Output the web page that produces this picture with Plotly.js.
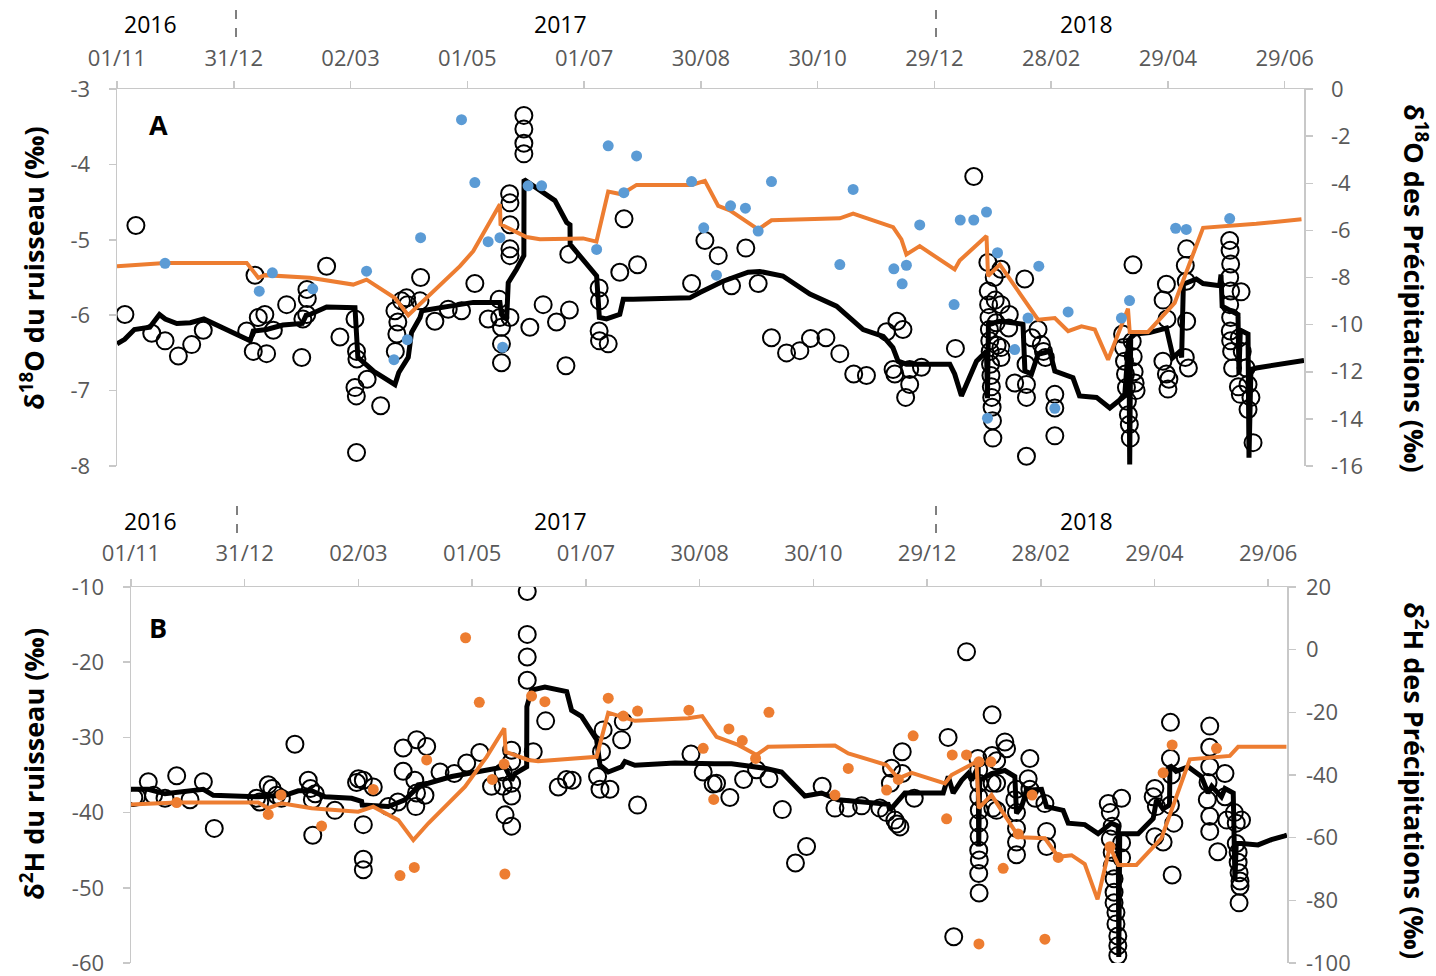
<!DOCTYPE html>
<html><head><meta charset="utf-8">
<script src="https://cdn.plot.ly/plotly-3.0.1.min.js"></script>
<style>html,body{margin:0;padding:0;background:#fff}#chart{width:1436px;height:976px}</style>
</head><body><div id="chart"></div>
<script>
// x values: days since 01/11/2016
const dateTickDays = [0, 60.5, 121, 181.5, 242, 302.5, 363, 423.5, 484, 544.5, 605];
const dateTickLabels = ['01/11','31/12','02/03','01/05','01/07','30/08','30/10','29/12','28/02','29/04','29/06'];
const yearLabels = ['2016','2017','2018'];

// Panel A — stream δ18O samples [day, ‰]
const streamSamplesA = [
[4.1,-5.99],[9.8,-4.81],[18,-6.24],[24.9,-6.34],[31.8,-6.54],[38.7,-6.39],[44.7,-6.20],[67.2,-6.21],[70.6,-6.48],[71.5,-5.47],
[73.2,-6.03],[76.6,-5.99],[77.5,-6.51],[81,-6.20],[87.9,-5.86],[95.7,-6.56],[96.3,-6.05],[98.3,-5.99],[98.4,-5.66],[98.6,-5.78],
[108.6,-5.35],[115.5,-6.29],[123.3,-6.05],[124.1,-6.48],[124.3,-6.58],[123.3,-6.96],[124,-7.07],[124.1,-7.82],[129.6,-6.85],[136.6,-7.20],
[144,-5.94],[144.2,-6.48],[145,-6.25],[145.5,-6.09],[147.4,-5.81],
[150,-5.77],[150.5,-5.86],[157,-5.81],[157.3,-5.50],[164.7,-6.08],[171.6,-5.92],[178.5,-5.94],[185.4,-5.58],[192.3,-6.05],[198,-5.79],
[198.3,-6.03],[199.2,-6.16],[199.2,-6.38],[199.2,-6.63],[203.6,-6.03],[203.4,-4.39],[203.6,-4.51],[203.6,-4.80],[203.6,-5.12],[203.6,-5.21],
[210.8,-3.35],[210.8,-3.53],[210.8,-3.72],[210.8,-3.86],[213.9,-6.16],[220.8,-5.86],[227.7,-6.09],[232.6,-6.67],[234.1,-5.19],[234.4,-5.93],
[249.8,-5.64],[250,-5.81],[249.8,-6.21],[250,-6.34],[254.5,-6.38],[260.5,-5.43],[262.7,-4.72],[269.7,-5.33],[297.7,-5.58],
[304.6,-5.01],[311.5,-5.21],[318.4,-5.61],[325.8,-5.11],[332.2,-5.58],[339.1,-6.30],[346.9,-6.50],[353.8,-6.47],[359.3,-6.31],[367.3,-6.30],
[374.5,-6.51],[381.7,-6.78],[388.3,-6.80],[398.7,-6.22],[402.1,-6.72],[403,-6.78],[404.1,-6.08],[407.2,-6.19],[408.6,-7.09],[410.7,-6.72],
[410.7,-6.92],[416.8,-6.69],[434.4,-6.44],[443.9,-4.16],
[451.2,-5.30],[451.4,-5.68],[451.6,-5.86],[451.8,-6.03],[452,-6.19],[452.2,-6.34],[452.4,-6.48],[452.6,-6.65],[452.8,-6.80],[453,-6.95],
[453.2,-7.09],[453.4,-7.22],[453.6,-7.40],[453.8,-7.63],[454.5,-5.50],[455,-5.80],[455.5,-6.10],[456,-6.40],
[458,-5.39],[458,-5.86],[458,-6.43],[458,-6.56],[462.3,-5.99],[462,-6.17],[465.1,-6.90],[470.3,-5.52],[471.2,-6.92],[471.2,-7.09],
[471,-6.65],[471.2,-7.87],[474,-6.30],[477.2,-6.19],[478.9,-6.39],[480,-6.48],[481,-6.56],[485.9,-7.05],[485.9,-7.23],[485.9,-7.60],
[526.4,-5.33],[521,-6.25],[521.5,-6.43],[522,-6.61],[522.5,-6.78],[523,-6.96],[523.5,-7.14],[524,-7.32],[524.5,-7.45],[525,-7.63],
[526,-6.35],[526.5,-6.55],[527,-6.75],[527.5,-6.90],[528,-7.00],
[543.7,-5.59],[542,-5.80],[544,-6.05],[541.9,-6.61],[543.7,-6.78],[545,-6.85],[544.5,-6.98],[554.2,-5.12],[553.5,-5.34],[554,-5.55],
[554.2,-6.08],[553.5,-6.56],[555.1,-6.70],
[576.5,-5.01],[576.7,-5.14],[577,-5.32],[576.5,-5.50],[577,-5.68],[576.5,-5.86],[577,-6.03],[576.8,-6.21],[577,-6.34],[577.5,-6.48],[578,-6.70],
[582.4,-5.69],[581.5,-6.30],[583,-6.48],[585,-6.70],[586,-6.92],[587.5,-7.09],[586,-7.25],[588.6,-7.69],[581,-6.95],[582,-7.05]
];

// Panel A — stream δ18O continuous [day, ‰]
const streamLineA = [
[0,-6.38],[4,-6.32],[9,-6.19],[17,-6.16],[22,-5.99],[25,-6.05],[31,-6.11],[38,-6.10],[45,-6.05],[69,-6.34],[70.6,-6.21],[77.5,-6.19],
[86,-6.13],[96,-6.11],[98,-6.00],[100,-5.99],[108.6,-5.89],[120.7,-5.89],[123.3,-5.90],[124.8,-6.56],[132.8,-6.74],[144,-6.92],[146,-6.76],
[150.9,-6.56],[152.6,-6.23],[157,-6.03],[158,-5.94],[172.5,-5.88],[184.6,-5.83],[198.4,-5.83],[199.2,-5.99],[201.9,-6.05],[202.7,-5.57],
[207,-5.39],[210.8,-5.21],[210.9,-4.20],[212,-4.22],[226.9,-4.48],[233,-4.77],[234.7,-4.80],[234.8,-5.06],[240.7,-5.24],[248.5,-5.48],
[249.9,-6.03],[253.6,-6.05],[260.5,-5.99],[262.3,-5.79],[267.4,-5.79],[296.8,-5.77],[302,-5.70],[314,-5.55],[327,-5.43],[333,-5.42],
[345,-5.48],[359,-5.72],[372.8,-5.88],[386.6,-6.19],[397,-6.28],[402,-6.43],[404.7,-6.61],[409,-6.65],[431.5,-6.65],[434,-6.78],
[437.5,-7.07],[445.3,-6.61],[450.5,-6.48],[451,-7.10],[451.5,-6.12],[457.4,-6.08],[469.4,-6.12],[470.4,-6.74],[473.8,-6.78],[477.2,-6.52],
[483.3,-6.48],[485.9,-6.74],[495.3,-6.83],[498.7,-7.07],[507.5,-7.09],[514.4,-7.23],[522.1,-7.07],[524.3,-6.30],[524.7,-7.98],[525.2,-6.30],
[527.4,-6.25],[535,-6.23],[543.7,-6.17],[547.2,-6.56],[550.7,-6.48],[551.6,-6.56],[552.5,-5.59],[559.2,-5.52],[562.7,-5.58],[571.3,-5.61],
[572,-5.46],[572.6,-5.88],[580.8,-5.99],[581.3,-6.78],[582,-6.20],[586,-6.25],[586.5,-7.89],[587.5,-6.72],[590.3,-6.70],[613.7,-6.61],[615,-6.60]
];

// Panel A — precipitation δ18O (orange line, right axis) [day, ‰]
const precipLineA = [
[0,-7.52],[24.9,-7.38],[67.2,-7.38],[73.2,-8.01],[76.6,-7.90],[100,-8.01],[122.4,-8.30],[129.3,-8.09],[144,-8.87],[150.9,-9.60],
[177.7,-7.52],[184.6,-6.88],[198.4,-4.89],[198.7,-5.74],[212.2,-6.28],[219.1,-6.38],[241.5,-6.34],[248.4,-6.48],[254.5,-4.35],[261.4,-4.47],
[269.2,-4.07],[297.7,-4.07],[304.6,-3.90],[311.5,-4.96],[317.5,-5.15],[332.2,-5.96],[339.1,-5.57],[374.5,-5.49],[381.4,-5.29],[402.1,-5.86],
[406.4,-6.38],[409,-7.02],[415.9,-6.67],[434,-7.66],[436.6,-7.28],[450.5,-6.24],[451.3,-7.94],[457.4,-7.45],[477.2,-9.79],[485.9,-9.72],
[492.8,-10.28],[499.7,-10.07],[506.6,-10.21],[513.5,-11.49],[523.8,-9.32],[524.7,-10.31],[534.2,-10.31],[548,-9.08],[562.7,-5.89],[584.3,-5.77],
[590.3,-5.72],[613.7,-5.53]
];

// Panel A — precipitation δ18O samples (blue dots, right axis) [day, ‰]
const precipSamplesA = [
[24.9,-7.40],[73.7,-8.58],[80.5,-7.80],[101.4,-8.48],[129.3,-7.73],[143.5,-11.49],[150.4,-10.64],[157.3,-6.31],[178.5,-1.30],[185.4,-3.97],
[192.3,-6.48],[198.4,-6.31],[199.8,-10.96],[213,-4.11],[220,-4.11],[248.5,-6.81],[254.5,-2.41],[262.6,-4.40],[269.2,-2.84],[297.7,-3.93],
[304,-5.89],[310.6,-7.90],[317.9,-4.96],[325.6,-5.06],[332.2,-6.03],[339.1,-3.93],[374.5,-7.45],[381.4,-4.26],[402.5,-7.63],[406.8,-8.27],
[409,-7.48],[415.9,-5.77],[433.7,-9.15],[436.9,-5.56],[443.9,-5.56],[450.5,-5.22],[451,-13.97],[456.2,-6.95],[465.1,-11.06],[472,-9.72],
[477.6,-7.52],[485.9,-13.55],[492.8,-9.46],[520.4,-9.72],[524.6,-8.98],[548.5,-5.91],[554,-5.96],[576.5,-5.50]
];

// Panel B — stream δ2H samples [day, ‰]
const streamSamplesB = [
[1.5,-38.0],[3,-37.9],[9.2,-35.9],[12,-37.7],[18.1,-38.1],[24.3,-35.1],[31.4,-38.3],[38.5,-35.9],[44.3,-42.1],[66.8,-38.1],
[68.5,-38.6],[73,-36.3],[75,-36.8],[77.5,-37.7],[80,-38.1],[87.2,-30.9],[94.3,-35.7],[95.5,-36.8],[96.7,-43.0],[96.5,-38.3],
[98,-37.5],[108.5,-39.7],[120,-36.0],[121,-35.5],[123.6,-35.7],[123.6,-41.6],[123.6,-46.2],[123.6,-47.6],[128.9,-36.6],[136.9,-39.2],
[142,-38.6],[144.8,-31.4],[144.8,-34.5],[151,-35.7],[152,-30.3],[151.5,-39.2],[151.9,-37.4],[156.4,-37.7],
[157.3,-31.2],[164.4,-34.6],[172,-34.8],[178.6,-33.4],[185.6,-32.0],[191.8,-36.5],[198,-34.6],[198,-36.5],[202.5,-31.7],[202.5,-33.2],
[202.5,-36.1],[202.5,-37.8],[199,-40.3],[202.5,-41.8],[210.8,-10.6],[210.8,-16.3],[210.8,-19.3],[210.8,-22.4],[214,-31.9],[220.6,-27.8],
[227.3,-36.6],[231.7,-35.6],[234.7,-35.7],[251.2,-29.0],[250.3,-31.9],[248.2,-35.2],[249.5,-36.9],[254.8,-36.9],[261.9,-27.9],[261,-30.3],
[269.5,-39.0],[297.9,-32.2],[304.4,-34.6],[309.7,-36.2],
[311.5,-36.1],[318.6,-38.0],[325.9,-35.6],[332.8,-34.3],[339.4,-35.5],[346.5,-39.6],[353.5,-46.7],[359.4,-44.5],[367.7,-36.5],[374.5,-39.4],
[381.6,-39.4],[388.7,-39.1],[398.4,-39.4],[402,-40.0],[404.6,-34.1],[404,-36.1],[406.4,-41.0],[407.5,-41.5],[409.1,-41.9],[410.3,-31.9],
[410.3,-34.8],[416.7,-38.1],[434.7,-30.0],[444.5,-18.6],[437.7,-56.5],[458.1,-27.0],
[450.5,-32.8],[451,-34.3],[451.2,-36.1],[451,-37.9],[451.3,-39.7],[451,-41.4],[451.2,-43.2],[451,-45.0],[451.3,-46.3],[451,-48.1],[451.2,-50.7],
[458.1,-32.4],[458.1,-36.1],[458.5,-39.4],[464.9,-30.6],[465.8,-31.5],[460.5,-33.1],[460.5,-36.1],[460.5,-39.7],[471.1,-36.9],[470.2,-38.3],
[471.1,-40.0],[471.1,-42.1],[471.1,-43.9],[471.1,-45.6],[478.2,-32.8],[477.3,-35.5],[478.2,-36.9],[481,-38.1],[486.2,-38.8],[487.1,-42.5],[487.1,-44.5],
[519.9,-38.8],[527,-38.1],[521,-40.0],[522,-41.8],[521,-43.5],[522,-45.3],[522,-47.1],[523,-48.8],[523,-50.6],[523,-52.0],[524,-53.3],
[524,-54.8],[525,-56.4],[525,-57.7],[525,-59.0],[527,-44.0],[527,-46.0],
[543.8,-37.9],[544.7,-36.8],[545.5,-39.2],[544.7,-43.2],[549.1,-43.9],[553,-28.0],[553,-32.8],[553.5,-35.0],[553,-39.0],[554.8,-41.4],[553.9,-48.3],
[573.9,-28.5],[573.9,-31.3],[573.9,-33.9],[573,-36.0],[572.6,-38.3],[573.9,-40.5],[573.9,-42.5],[578.2,-45.2],[582,-34.8],[582,-37.9],[583,-41.0],
[587,-40.0],[588,-41.4],[588,-44.1],[589,-45.3],[589,-46.6],[589.5,-48.0],[590,-49.1],[590,-49.8],[589.5,-52.0],[590.8,-41.0]
];

// Panel B — stream δ2H continuous [day, ‰]
const streamLineB = [
[0,-36.9],[9.2,-36.9],[18.1,-37.5],[25.2,-37.3],[32.3,-37.2],[38.5,-36.9],[43.8,-37.7],[67.7,-37.9],[81.9,-37.7],[89,-37.1],[96.1,-37.1],
[103.2,-37.9],[117.4,-38.1],[122.7,-38.5],[123,-39.0],[136.9,-39.2],[145.7,-38.3],[151,-37.0],[152.8,-36.3],[158.2,-36.1],[170.6,-35.2],
[179.4,-34.8],[198.9,-33.9],[202.5,-35.7],[204.3,-34.8],[210.5,-33.9],[210.6,-25.9],[213.1,-23.7],[220.2,-23.3],[231.8,-23.9],[234.4,-26.4],
[239.7,-27.2],[247.7,-30.3],[249.5,-33.7],[253.9,-34.6],[261,-33.9],[262.8,-33.2],[268.1,-33.7],[289.4,-33.4],[310.6,-33.5],[319.5,-33.5],
[328.4,-33.8],[337.2,-34.1],[346.1,-34.6],[358.5,-37.8],[367.4,-37.4],[376.2,-38.3],[385.1,-38.5],[402.8,-38.9],[403.7,-39.7],[408.2,-38.3],
[411.7,-37.4],[432.1,-37.4],[434.8,-35.2],[437.4,-37.4],[441.9,-35.7],[445.4,-34.8],[447.2,-35.7],[450.7,-33.9],[451,-44.5],[451.5,-35.7],
[457.8,-34.8],[464.9,-34.4],[470.2,-35.2],[471.1,-40.1],[473.8,-39.2],[476.6,-37.0],[484.4,-36.9],[487.1,-39.2],[495.9,-39.7],[498.6,-41.4],
[507.4,-41.6],[514.5,-42.8],[521.6,-41.4],[525.2,-41.8],[525.5,-59.2],[526,-42.8],[535.8,-42.8],[543.8,-40.8],[545.6,-38.3],[549,-39.5],
[552.5,-39.0],[552.7,-33.7],[556,-34.5],[562.4,-33.9],[569.5,-35.2],[573,-37.4],[575,-36.5],[580.1,-37.9],[582,-36.8],[586.4,-37.4],
[587.3,-49.0],[588,-44.1],[590.8,-44.1],[599.6,-44.3],[606.7,-43.6],[613.8,-43.1],[615,-43.0]
];

// Panel B — precipitation δ2H (orange line, right axis) [day, ‰]
const precipLineB = [
[0,-49.4],[24.3,-48.8],[67.7,-48.8],[73,-50.6],[80.1,-49.0],[96.1,-50.6],[120.9,-51.7],[128.9,-50.1],[142.2,-54.4],[150.2,-60.8],
[158.2,-55.4],[177.7,-43.7],[189.2,-34.2],[198.6,-25.1],[199.3,-32.6],[211.3,-35.2],[216.6,-35.6],[247.7,-34.2],[253.9,-20.1],[261.9,-21.4],
[268.1,-22.7],[296.4,-21.9],[303.9,-21.2],[311.5,-27.8],[323,-30.4],[332.8,-33.6],[338.9,-31.0],[374.5,-30.6],[381.6,-33.1],[402,-36.8],
[408.2,-41.1],[415.3,-39.3],[433,-42.7],[436.5,-40.0],[449.8,-35.8],[451,-50.6],[457.8,-46.4],[471.1,-58.6],[473.8,-59.9],[486.2,-60.2],
[493.3,-66.1],[500.4,-65.6],[507.4,-68.4],[514.2,-79.7],[520.8,-62.9],[525.2,-68.7],[534.9,-68.7],[548.2,-60.2],[555.3,-48.0],[563.3,-35.0],
[584.6,-33.9],[589,-31.0],[614.7,-31.0]
];

// Panel B — precipitation δ2H samples (orange dots, right axis) [day, ‰]
const precipSamplesB = [
[24.3,-48.8],[73,-52.6],[79.8,-46.4],[101.4,-56.3],[128.9,-44.6],[143.1,-72.1],[150.7,-69.5],[157.3,-35.2],[178,3.8],[185.3,-16.8],
[192.2,-41.4],[198.5,-36.5],[198.9,-71.6],[213.1,-14.8],[220.2,-16.6],[253.9,-15.5],[261.9,-21.2],[269.5,-19.6],[296.8,-19.3],[304.4,-31.5],
[310,-47.8],[318.1,-25.3],[325.2,-29.0],[332.3,-34.7],[339.4,-20.0],[374.5,-46.4],[381.6,-37.9],[402,-44.8],[408.2,-41.4],[416.1,-27.5],
[433.9,-54.0],[436.9,-33.6],[444.5,-33.6],[451.1,-35.8],[451.1,-93.9],[457.5,-35.8],[464,-69.8],[472,-58.8],[479.4,-46.4],[486.2,-92.4],
[493.3,-66.3],[520.8,-62.9],[549.1,-39.3],[553.9,-30.4],[577.5,-31.5]
];

const FONT = 'Open Sans, sans-serif';
const W = 1436, H = 976;
const px = X => X / W, py = Y => 1 - Y / H;
const xs = a => a.map(p => p[0]), ys = a => a.map(p => p[1]);

const circle = {symbol:'circle-open', size:17, color:'#000', line:{width:2, color:'#000'}};
const traces = [
  {x:xs(streamSamplesA), y:ys(streamSamplesA), xaxis:'x', yaxis:'y', mode:'markers', marker:circle, type:'scatter'},
  {x:xs(streamLineA), y:ys(streamLineA), xaxis:'x', yaxis:'y', mode:'lines', line:{color:'#000', width:5}, type:'scatter'},
  {x:xs(precipLineA), y:ys(precipLineA), xaxis:'x', yaxis:'y2', mode:'lines', line:{color:'#ED7D31', width:4}, type:'scatter'},
  {x:xs(precipSamplesA), y:ys(precipSamplesA), xaxis:'x', yaxis:'y2', mode:'markers', marker:{color:'#5B9BD5', size:11}, type:'scatter'},
  {x:xs(streamSamplesB), y:ys(streamSamplesB), xaxis:'x2', yaxis:'y3', mode:'markers', marker:circle, type:'scatter'},
  {x:xs(streamLineB), y:ys(streamLineB), xaxis:'x2', yaxis:'y3', mode:'lines', line:{color:'#000', width:5}, type:'scatter'},
  {x:xs(precipLineB), y:ys(precipLineB), xaxis:'x2', yaxis:'y4', mode:'lines', line:{color:'#ED7D31', width:4}, type:'scatter'},
  {x:xs(precipSamplesB), y:ys(precipSamplesB), xaxis:'x2', yaxis:'y4', mode:'markers', marker:{color:'#ED7D31', size:11}, type:'scatter'}
];

const axBase = {showgrid:false, zeroline:false, showline:true, linecolor:'#c8c8c8', linewidth:1.5,
  ticks:'outside', ticklen:7, tickwidth:1.5, tickcolor:'#c8c8c8', ticklabeloverflow:'allow',
  tickfont:{family:FONT, size:22, color:'#595959'}, fixedrange:true, tickmode:'array'};
const numTicks = (lo, hi, step) => { const v=[]; for (let t=lo; t<=hi+1e-9; t+=step) v.push(t); return v; };
const yTicks = (lo, hi, step) => { const v = numTicks(lo,hi,step); return {tickvals:v, ticktext:v.map(String)}; };

const layout = {
  width:W, height:H, margin:{l:0,r:0,t:0,b:0}, paper_bgcolor:'#fff', plot_bgcolor:'rgba(0,0,0,0)', showlegend:false,
  xaxis:{...axBase, domain:[px(117), px(1304)], range:[0,615], side:'top', anchor:'y', tickvals:dateTickDays, ticktext:dateTickLabels, ticklabelstandoff:6},
  yaxis:{...axBase, domain:[py(466), py(89)], range:[-8,-3], anchor:'x', ...yTicks(-8,-3,1), ticklabelstandoff:14},
  yaxis2:{...axBase, overlaying:'y', side:'right', anchor:'x', range:[-16,0], ...yTicks(-16,0,2), ticklabelstandoff:14},
  xaxis2:{...axBase, domain:[px(131), px(1287)], range:[0,615], side:'top', anchor:'y3', tickvals:dateTickDays, ticktext:dateTickLabels, ticklabelstandoff:9},
  yaxis3:{...axBase, domain:[py(963), py(587)], range:[-60,-10], anchor:'x2', ...yTicks(-60,-10,10), ticklabelstandoff:14},
  yaxis4:{...axBase, overlaying:'y3', side:'right', anchor:'x2', range:[-100,20], ...yTicks(-100,20,20), ticklabelstandoff:6},
  shapes:[
    {type:'line', xref:'paper', yref:'paper', x0:px(236), x1:px(236), y0:py(10), y1:py(37), line:{color:'#000', width:1, dash:'dash'}},
    {type:'line', xref:'paper', yref:'paper', x0:px(936), x1:px(936), y0:py(10), y1:py(37), line:{color:'#000', width:1, dash:'dash'}},
    {type:'line', xref:'paper', yref:'paper', x0:px(237), x1:px(237), y0:py(506), y1:py(535), line:{color:'#000', width:1, dash:'dash'}},
    {type:'line', xref:'paper', yref:'paper', x0:px(936), x1:px(936), y0:py(506), y1:py(535), line:{color:'#000', width:1, dash:'dash'}}
  ],
  annotations:[]
};

const ann = (text, X, Y, opts) => Object.assign({text, xref:'paper', yref:'paper', x:px(X), y:py(Y), showarrow:false,
  xanchor:'center', yanchor:'middle', font:{family:FONT, size:23, color:'#000'}}, opts||{});
const yearXA = [150, 560, 1086];
yearLabels.forEach((t,i) => { layout.annotations.push(ann(t, yearXA[i], 24)); layout.annotations.push(ann(t, yearXA[i], 521)); });
layout.annotations.push(ann('<b>A</b>', 158, 125, {font:{family:FONT, size:27, color:'#000'}}));
layout.annotations.push(ann('<b>B</b>', 158, 627, {font:{family:FONT, size:27, color:'#000'}}));
const titleFont = {family:FONT, size:27, color:'#000'};
layout.annotations.push(ann('<b>δ<sup>18</sup>O du ruisseau (‰)</b>', 32, 268, {textangle:-90, font:titleFont}));
layout.annotations.push(ann('<b>δ<sup>18</sup>O des Précipitations (‰)</b>', 1416, 288, {textangle:90, font:titleFont}));
layout.annotations.push(ann('<b>δ<sup>2</sup>H du ruisseau (‰)</b>', 32, 764, {textangle:-90, font:titleFont}));
layout.annotations.push(ann('<b>δ<sup>2</sup>H des Précipitations (‰)</b>', 1416, 780, {textangle:90, font:titleFont}));

Plotly.newPlot('chart', traces, layout, {staticPlot:true, displayModeBar:false});
</script></body></html>
